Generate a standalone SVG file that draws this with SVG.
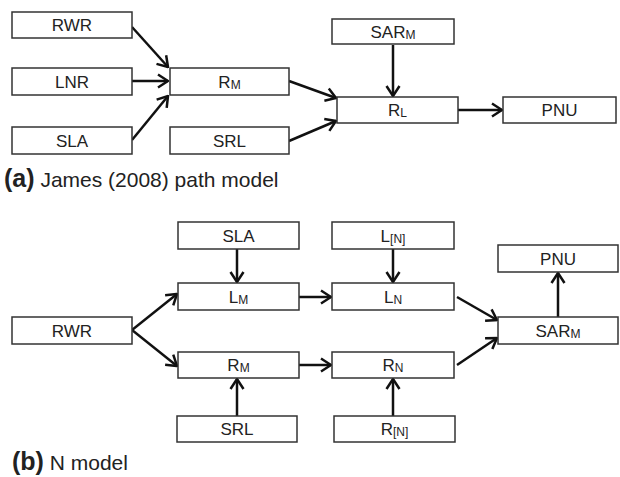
<svg xmlns="http://www.w3.org/2000/svg" width="620" height="477" viewBox="0 0 620 477">
<style>
.box{fill:#fff;stroke:#333;stroke-width:1.5}
.lbl{font-family:"Liberation Sans",Arial,sans-serif;font-size:17px;fill:#222;text-anchor:middle}
.sub{font-size:12px}
.edge{stroke:#111;stroke-width:2.5;fill:none;marker-end:url(#arr)}
.cap{font-family:"Liberation Sans",Arial,sans-serif;font-size:21px;fill:#222}
.capb{font-weight:bold;font-size:25px}
</style>
<defs>
<marker id="arr" viewBox="0 0 12 16" refX="11" refY="8" markerWidth="12" markerHeight="16" markerUnits="userSpaceOnUse" orient="auto">
<path d="M1,1.5 L11,8 L1,14.5" fill="none" stroke="#111" stroke-width="2.5"/>
</marker>
</defs>
<rect width="620" height="477" fill="#fff"/>
<g id="connectors">
<line class="edge" x1="132" y1="27" x2="168" y2="67"/>
<line class="edge" x1="132" y1="81" x2="168" y2="81"/>
<line class="edge" x1="132" y1="140" x2="168" y2="96"/>
<line class="edge" x1="393" y1="45" x2="393" y2="96"/>
<line class="edge" x1="289" y1="81" x2="336" y2="98"/>
<line class="edge" x1="289" y1="141" x2="336" y2="121"/>
<line class="edge" x1="456" y1="110" x2="502" y2="110"/>
<line class="edge" x1="132" y1="330" x2="177" y2="294"/>
<line class="edge" x1="132" y1="330" x2="177" y2="366"/>
<line class="edge" x1="299" y1="297" x2="331" y2="297"/>
<line class="edge" x1="299" y1="365" x2="331" y2="365"/>
<line class="edge" x1="237" y1="249" x2="237" y2="282"/>
<line class="edge" x1="393" y1="249" x2="393" y2="282"/>
<line class="edge" x1="237" y1="416" x2="237" y2="379"/>
<line class="edge" x1="393" y1="416" x2="393" y2="379"/>
<line class="edge" x1="457" y1="297" x2="497" y2="320"/>
<line class="edge" x1="457" y1="365" x2="497" y2="338"/>
<line class="edge" x1="558" y1="317" x2="558" y2="273"/>
</g>
<g id="a_RWR"><rect class="box" x="12" y="12" width="120" height="26"/><text class="lbl" x="72" y="31">RWR</text></g>
<g id="a_LNR"><rect class="box" x="12" y="68" width="120" height="27"/><text class="lbl" x="72" y="87.5">LNR</text></g>
<g id="a_SLA"><rect class="box" x="12" y="127" width="120" height="27"/><text class="lbl" x="72" y="146.5">SLA</text></g>
<g id="a_RM"><rect class="box" x="170" y="68" width="119" height="27"/><text class="lbl" x="229.5" y="87.5">R<tspan class="sub" dy="1">M</tspan></text></g>
<g id="a_SRL"><rect class="box" x="170" y="127" width="119" height="27"/><text class="lbl" x="229.5" y="146.5">SRL</text></g>
<g id="a_SARM"><rect class="box" x="332" y="19" width="122" height="25"/><text class="lbl" x="393" y="37.5">SAR<tspan class="sub" dy="1">M</tspan></text></g>
<g id="a_RL"><rect class="box" x="337" y="97" width="121" height="26"/><text class="lbl" x="397.5" y="116">R<tspan class="sub" dy="1">L</tspan></text></g>
<g id="a_PNU"><rect class="box" x="503" y="97" width="113" height="26"/><text class="lbl" x="559.5" y="116">PNU</text></g>
<g id="cap_a"><text class="cap" x="4" y="187"><tspan class="capb">(a)</tspan> James (2008) path model</text></g>
<g id="b_SLA"><rect class="box" x="178" y="222" width="121" height="27"/><text class="lbl" x="238.5" y="241.5">SLA</text></g>
<g id="b_LM"><rect class="box" x="178" y="283" width="121" height="27"/><text class="lbl" x="238.5" y="302.5">L<tspan class="sub" dy="1">M</tspan></text></g>
<g id="b_RWR"><rect class="box" x="12" y="317" width="120" height="27"/><text class="lbl" x="72" y="336.5">RWR</text></g>
<g id="b_RM"><rect class="box" x="178" y="352" width="121" height="26"/><text class="lbl" x="238.5" y="371">R<tspan class="sub" dy="1">M</tspan></text></g>
<g id="b_SRL"><rect class="box" x="177" y="416" width="120" height="26"/><text class="lbl" x="237" y="435">SRL</text></g>
<g id="b_LNb"><rect class="box" x="332" y="222" width="122" height="27"/><text class="lbl" x="393" y="241.5">L<tspan class="sub" dy="1">[N]</tspan></text></g>
<g id="b_LN"><rect class="box" x="332" y="283" width="122" height="27"/><text class="lbl" x="393" y="302.5">L<tspan class="sub" dy="1">N</tspan></text></g>
<g id="b_RN"><rect class="box" x="332" y="352" width="122" height="26"/><text class="lbl" x="393" y="371">R<tspan class="sub" dy="1">N</tspan></text></g>
<g id="b_RNb"><rect class="box" x="334" y="416" width="121" height="26"/><text class="lbl" x="394.5" y="435">R<tspan class="sub" dy="1">[N]</tspan></text></g>
<g id="b_PNU"><rect class="box" x="498" y="245" width="120" height="27"/><text class="lbl" x="558" y="264.5">PNU</text></g>
<g id="b_SARM"><rect class="box" x="498" y="317" width="120" height="27"/><text class="lbl" x="558" y="336.5">SAR<tspan class="sub" dy="1">M</tspan></text></g>
<g id="cap_b"><text class="cap" x="12" y="470"><tspan class="capb">(b)</tspan> N model</text></g>
</svg>
